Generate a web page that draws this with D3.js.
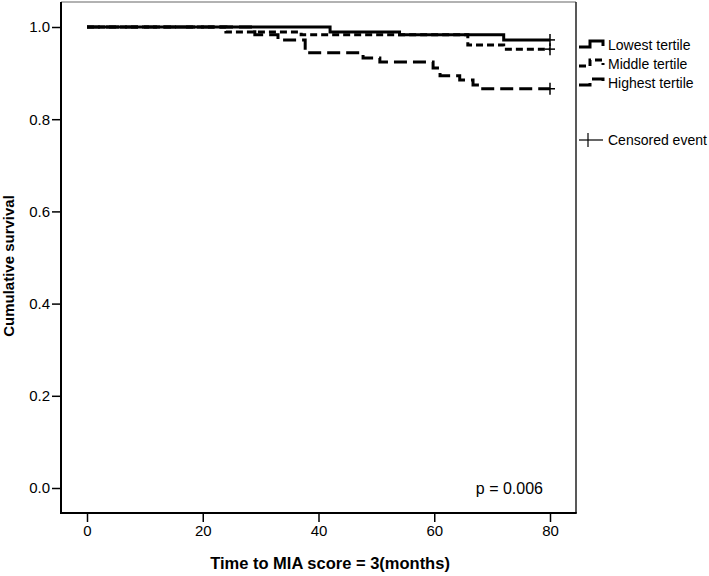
<!DOCTYPE html>
<html>
<head>
<meta charset="utf-8">
<script src="https://cdn.jsdelivr.net/npm/d3@7"></script>
<style>
  html, body { margin: 0; padding: 0; background: #fff; }
  svg { display: block; }
  text { font-family: "Liberation Sans", Arial, Helvetica, sans-serif; fill: #000; }
</style>
</head>
<body>
<svg id="chart" width="709" height="576"></svg>
<script>
// ---- data ----
const seriesNames = ["Lowest tertile", "Middle tertile", "Highest tertile"];
const lowTimes  = [0, 42, 54, 72, 80];
const lowSurv   = [1.000, 0.989, 0.983, 0.972, 0.972];
const midTimes  = [0, 24, 37, 65.8, 72, 80];
const midSurv   = [1.000, 0.989, 0.983, 0.961, 0.952, 0.952];
const highTimes = [0, 29, 33, 37.7, 47.7, 50.6, 59.8, 61, 64.4, 66.7, 68, 80];
const highSurv  = [1.000, 0.983, 0.972, 0.944, 0.933, 0.924, 0.911, 0.894, 0.885, 0.874, 0.866, 0.866];
const censorTime = 80;
const xTicks = [0, 20, 40, 60, 80];
const yTicks = [0.0, 0.2, 0.4, 0.6, 0.8, 1.0];
const pText = "p = 0.006";
const xTitle = "Time to MIA score = 3(months)";
const yTitle = "Cumulative survival";
const censorLabel = "Censored event";

// ---- layout ----
const svg = d3.select("#chart");
svg.append("rect").attr("width", 709).attr("height", 576).attr("fill", "#fff");
const frame = { left: 61, right: 576, top: 2, bottom: 513 };
const x = d3.scaleLinear().domain([0, 80]).range([87, 550]);
const y = d3.scaleLinear().domain([0, 1]).range([488, 27]);

// frame
svg.append("line").attr("x1", frame.left).attr("x2", frame.right).attr("y1", frame.top).attr("y2", frame.top)
  .attr("stroke", "#999").attr("stroke-width", 1.5);
svg.append("line").attr("x1", frame.right).attr("x2", frame.right).attr("y1", frame.top).attr("y2", frame.bottom)
  .attr("stroke", "#222").attr("stroke-width", 1.5);

// axes
const yAxis = svg.append("g").attr("transform", `translate(${frame.left},0)`)
  .call(d3.axisLeft(y).tickValues(yTicks).tickFormat(d3.format(".1f")).tickSize(9).tickPadding(2));
yAxis.select(".domain").remove();
yAxis.selectAll(".tick line").attr("stroke", "#000").attr("stroke-width", 1.5);
yAxis.selectAll(".tick text").attr("font-size", 15).attr("font-family", "Liberation Sans, Arial, sans-serif");

const xAxis = svg.append("g").attr("transform", `translate(0,${frame.bottom})`)
  .call(d3.axisBottom(x).tickValues(xTicks).tickFormat(d3.format("d")).tickSize(9).tickPadding(3));
xAxis.select(".domain").remove();
xAxis.selectAll(".tick line").attr("stroke", "#000").attr("stroke-width", 1.5);
xAxis.selectAll(".tick text").attr("font-size", 15).attr("font-family", "Liberation Sans, Arial, sans-serif");

svg.append("line").attr("x1", frame.left).attr("x2", frame.left).attr("y1", frame.top).attr("y2", frame.bottom + 1)
  .attr("stroke", "#000").attr("stroke-width", 2);
svg.append("line").attr("x1", frame.left).attr("x2", frame.right + 0.75).attr("y1", frame.bottom).attr("y2", frame.bottom)
  .attr("stroke", "#000").attr("stroke-width", 2);

// curves
const series = [
  { name: seriesNames[2], t: highTimes, s: highSurv, dash: "13,6" },
  { name: seriesNames[1], t: midTimes, s: midSurv, dash: "7,4" },
  { name: seriesNames[0], t: lowTimes, s: lowSurv, dash: null }
];
const line = d3.line().x(d => x(d[0])).y(d => y(d[1])).curve(d3.curveStepAfter);
series.forEach(sr => {
  const pts = sr.t.map((t, i) => [t, sr.s[i]]);
  svg.append("path").datum(pts).attr("d", line)
    .attr("fill", "none").attr("stroke", "#000").attr("stroke-width", 3)
    .attr("stroke-dasharray", sr.dash);
  const cy = y(sr.s[sr.s.length - 1]);
  const cx = x(censorTime);
  svg.append("line").attr("x1", cx).attr("x2", cx).attr("y1", cy - 6).attr("y2", cy + 6)
    .attr("stroke", "#000").attr("stroke-width", 1.5);
  svg.append("line").attr("x1", cx - 5).attr("x2", cx + 5).attr("y1", cy).attr("y2", cy)
    .attr("stroke", "#000").attr("stroke-width", 1.5);
});

// p value
svg.append("text").attr("x", 543).attr("y", 494).attr("text-anchor", "end")
  .attr("font-size", 16).text(pText);

// axis titles
svg.append("text").attr("x", 330).attr("y", 569).attr("text-anchor", "middle")
  .attr("font-size", 16.5).attr("font-weight", "bold").text(xTitle);
svg.append("text").attr("transform", "translate(14,266) rotate(-90)").attr("text-anchor", "middle")
  .attr("font-size", 15).attr("font-weight", "bold").text(yTitle);

// legend
const legendY = [45, 64, 83];
const legendOrder = [
  { name: seriesNames[0], dash: null },
  { name: seriesNames[1], dash: "7,4" },
  { name: seriesNames[2], dash: "13,6" }
];
legendOrder.forEach((d, i) => {
  const g = svg.append("g").attr("transform", `translate(579,${legendY[i] - 5})`);
  g.append("path").attr("d", "M0,7 H11 V1 H24 V6")
    .attr("fill", "none").attr("stroke", "#000").attr("stroke-width", 3)
    .attr("stroke-dasharray", d.dash);
  svg.append("text").attr("x", 608).attr("y", legendY[i]).attr("dy", "0.35em")
    .attr("font-size", 14).text(d.name);
});
svg.append("line").attr("x1", 579).attr("x2", 603).attr("y1", 140).attr("y2", 140)
  .attr("stroke", "#000").attr("stroke-width", 1.2);
svg.append("line").attr("x1", 588).attr("x2", 588).attr("y1", 133).attr("y2", 147)
  .attr("stroke", "#000").attr("stroke-width", 1.2);
svg.append("text").attr("x", 608).attr("y", 140).attr("dy", "0.35em")
  .attr("font-size", 14).text(censorLabel);
</script>
</body>
</html>
